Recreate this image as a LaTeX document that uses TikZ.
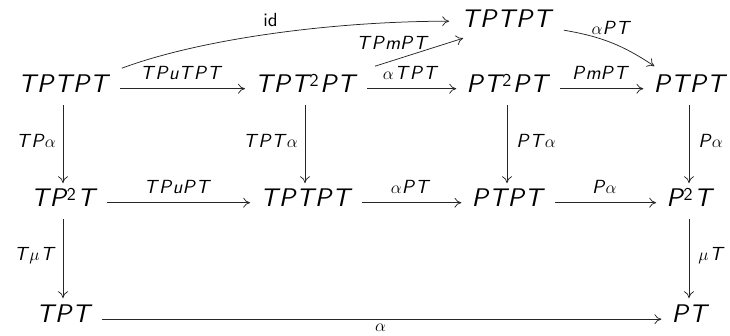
\documentclass[tikz,border=0pt]{standalone}
\usepackage{fontspec}
\usetikzlibrary{arrows.meta}
\newfontfamily\objf{lmsans10-oblique.otf}
\newfontfamily\upf{lmsans10-regular.otf}
\newcommand{\sq}{\kern1pt\raisebox{6.5pt}{\fontsize{18}{20}\selectfont\upf 2}\kern1.5pt}
\newcommand{\ks}{\kern0.045em}
\tikzset{
  obj/.style={font=\fontsize{25.5}{30}\selectfont\objf, inner sep=0pt,
    text height=17.6pt, text depth=0pt, anchor=base},
  lab/.style={font=\fontsize{19}{23}\selectfont\objf, inner sep=0pt},
  arr/.style={draw=black!85, line width=0.75pt, -{To[length=7pt,width=10pt]}},
  harr/.style={arr, shorten <=12pt, shorten >=10pt},
  varr/.style={arr, shorten <=12pt, shorten >=6pt},
}
\begin{document}
\begin{tikzpicture}[x=1pt,y=-1pt]
\useasboundingbox (0,0) rectangle (730,336);
% objects
\node[obj] (top) at (506,28) {T\ks P\ks T\ks P\ks T};
\node[obj] (a1) at (63,93) {T\ks P\ks T\ks P\ks T};
\node[obj] (a2) at (305,93) {T\ks P\ks T\sq P\ks T};
\node[obj] (a3) at (507,93) {P\ks T\sq P\ks T};
\node[obj] (a4) at (689,93) {P\ks T\ks P\ks T};
\node[obj] (b1) at (63,207) {T\ks P\sq T};
\node[obj] (b2) at (305,207) {T\ks P\ks T\ks P\ks T};
\node[obj] (b3) at (507,207) {P\ks T\ks P\ks T};
\node[obj] (b4) at (689,207) {P\sq T};
\node[obj] (c1) at (63,322) {T\ks P\ks T};
\node[obj] (c4) at (689,322) {P\ks T};
% top arrows
\draw[arr] ([xshift=14pt,yshift=7pt]a1.north east) .. controls +(78,-29) and +(-118,0) .. ([xshift=-12pt,yshift=-2pt]top.west)
  node[lab, pos=0.5, anchor=south, yshift=7pt]{\upf id};
\draw[arr] ([xshift=20pt,yshift=9pt]a2.north east) -- ([xshift=2pt,yshift=-10pt]top.south west)
  node[lab, pos=0.2, anchor=south, yshift=11pt]{T\/P\/m\/P\/T\/};
\draw[arr] ([xshift=13pt,yshift=-11pt]top.east) to[bend left=12]
  node[lab, midway, anchor=south, yshift=8pt]{$\alpha$P\/T\/} ([xshift=1pt,yshift=9pt]a4.north west);
% row 1
\draw[harr] ([yshift=-4.5pt]a1.east) -- node[lab, midway, anchor=base, yshift=9.5pt]{T\/P\/u\/T\/P\/T\/} ([yshift=-4.5pt]a2.west);
\draw[harr] ([yshift=-4.5pt]a2.east) -- node[lab, midway, anchor=base, yshift=9.5pt]{$\alpha$\kern1pt T\/P\/T\/} ([yshift=-4.5pt]a3.west);
\draw[harr] ([yshift=-4.5pt]a3.east) -- node[lab, midway, anchor=base, yshift=9.5pt]{P\/m\/P\/T\/} ([yshift=-4.5pt]a4.west);
% verticals 1-2
\draw[varr] (a1.south) -- node[lab, midway, left=7pt]{T\/P\/$\alpha$} (b1.north);
\draw[varr] (a2.south) -- node[lab, midway, left=7pt]{T\/P\/T\/$\alpha$} (b2.north);
\draw[varr] (a3.south) -- node[lab, midway, right=9pt]{P\/T\/$\alpha$} (b3.north);
\draw[varr] (a4.south) -- node[lab, midway, right=9pt]{P\/$\alpha$} (b4.north);
% row 2
\draw[harr] ([yshift=-4.5pt]b1.east) -- node[lab, midway, anchor=base, yshift=9.5pt]{T\/P\/u\/P\/T\/} ([yshift=-4.5pt]b2.west);
\draw[harr] ([yshift=-4.5pt]b2.east) -- node[lab, midway, anchor=base, yshift=9.5pt]{$\alpha$P\/T\/} ([yshift=-4.5pt]b3.west);
\draw[harr] ([yshift=-4.5pt]b3.east) -- node[lab, midway, anchor=base, yshift=9.5pt]{P\/$\alpha$} ([yshift=-4.5pt]b4.west);
% verticals 2-3
\draw[varr] (b1.south) -- node[lab, midway, left=7pt]{T\/$\mu$\kern1pt T\/} (c1.north);
\draw[varr] (b4.south) -- node[lab, midway, right=9pt]{$\mu$\kern1pt T\/} (c4.north);
% bottom
\draw[harr] ([yshift=-6pt]c1.east) -- node[lab, midway, below=4pt]{$\alpha$} ([yshift=-6pt]c4.west);
\end{tikzpicture}
\end{document}
